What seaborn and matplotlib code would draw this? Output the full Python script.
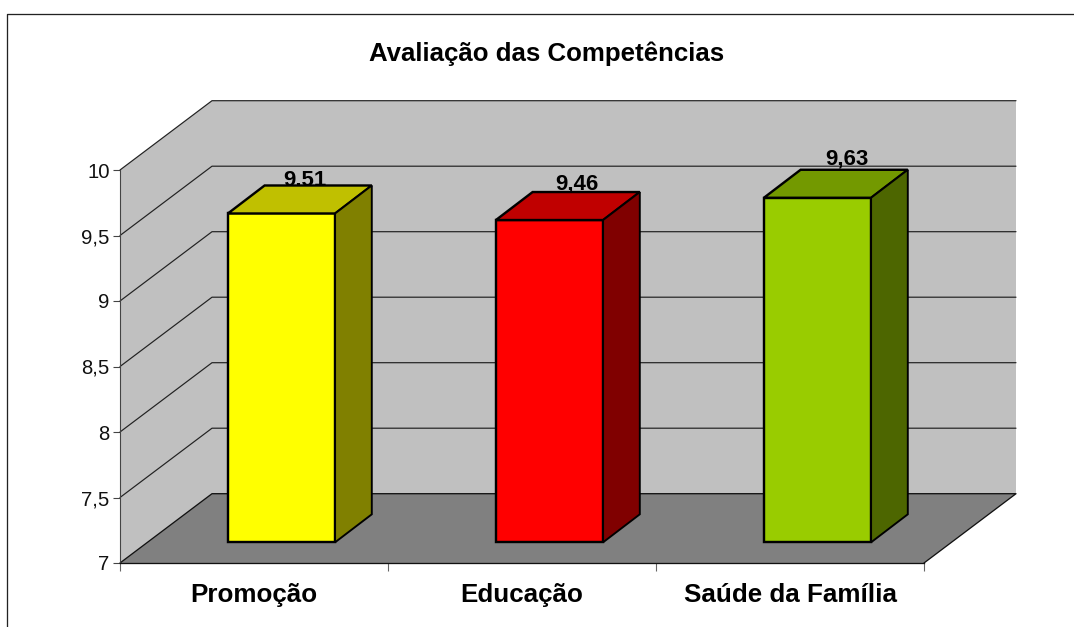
import matplotlib
matplotlib.use("Agg")
import matplotlib.pyplot as plt
import seaborn as sns
from matplotlib.lines import Line2D
from matplotlib.patches import Polygon
from matplotlib.transforms import Affine2D, IdentityTransform

categories = ["Promoção", "Educação", "Saúde da Família"]
values = [9.51, 9.46, 9.63]
value_labels = ["9,51", "9,46", "9,63"]
front_colors = ["#FFFF00", "#FF0000", "#99CC00"]
top_colors = ["#C0C000", "#C00000", "#739900"]
side_colors = ["#808000", "#800000", "#4D6600"]
y_ticks = [7, 7.5, 8, 8.5, 9, 9.5, 10]
y_tick_labels = ["7", "7,5", "8", "8,5", "9", "9,5", "10"]

W, H = 1074, 627
FONT = "Liberation Sans"
WALL_DX, WALL_DY = 92, 69.3
BAR_DX, BAR_DY = 27.5, 20.7
DEPTH_DX, DEPTH_DY = 36.7, 28
LABEL_OFFSETS = [(51, 48.7), (55, 51.7), (57, 53.5)]
PX = 0.72

sns.set_theme(style="white")
plt.rcParams["font.family"] = [FONT, "DejaVu Sans"]

fig = plt.figure(figsize=(W / 100, H / 100), dpi=100, facecolor="white")
ax = fig.add_axes([120 / W, 1 - 563 / H, 804 / W, 393 / H])
ax.patch.set_visible(False)

sns.barplot(x=categories, y=values, hue=categories, palette=front_colors,
            saturation=1, width=0.4, legend=False, edgecolor="black",
            linewidth=2.4 * PX, ax=ax)
ax.set_xlim(-0.5, 2.5)
ax.set_ylim(7, 10)
ax.set_autoscale_on(False)
ident = IdentityTransform()


def px(x, v, dx=0.0, dy=0.0):
    a, b = ax.transData.transform((x, v))
    return (a + dx, b + dy)


# walls and floor
x0, x1 = -0.5, 2.5
ax.add_patch(Polygon([px(x0, 7), px(x0, 7, WALL_DX, WALL_DY),
                      px(x0, 10, WALL_DX, WALL_DY), px(x0, 10)],
                     closed=True, fc="#C0C0C0", ec="none", transform=ident,
                     clip_on=False, zorder=0.5))
ax.add_patch(Polygon([px(x0, 7, WALL_DX, WALL_DY), px(x1, 7, WALL_DX, WALL_DY),
                      px(x1, 10, WALL_DX, WALL_DY), px(x0, 10, WALL_DX, WALL_DY)],
                     closed=True, fc="#C0C0C0", ec="none", transform=ident,
                     clip_on=False, zorder=0.5))
for t in y_ticks[1:]:
    p = [px(x0, t), px(x0, t, WALL_DX, WALL_DY), px(x1, t, WALL_DX, WALL_DY)]
    ax.add_line(Line2D([q[0] for q in p], [q[1] for q in p], color="#222222",
                       lw=1.2 * PX, transform=ident, clip_on=False, zorder=1))
ax.add_patch(Polygon([px(x0, 7), px(x0, 7, WALL_DX, WALL_DY),
                      px(x1, 7, WALL_DX, WALL_DY), px(x1, 7)],
                     closed=True, fc="#808080", ec="none", transform=ident,
                     clip_on=False, zorder=1.5))
p = [px(x0, 7), px(x0, 7, WALL_DX, WALL_DY), px(x1, 7, WALL_DX, WALL_DY), px(x1, 7)]
ax.add_line(Line2D([q[0] for q in p], [q[1] for q in p], color="#111111",
                   lw=1.3 * PX, transform=ident, clip_on=False, zorder=1.6))

# 3D bars
shift = Affine2D().translate(BAR_DX, BAR_DY)
for i, bar in enumerate(ax.patches[:len(values)]):
    v = values[i]
    left, right = bar.get_x(), bar.get_x() + bar.get_width()
    bar.set_y(7)
    bar.set_height(v - 7)
    bar.set_clip_on(False)
    bar.set_transform(ax.transData + shift)
    bar.set_zorder(3)
    bar.set_joinstyle("miter")
    top = [px(left, v, BAR_DX, BAR_DY), px(right, v, BAR_DX, BAR_DY),
           px(right, v, BAR_DX + DEPTH_DX, BAR_DY + DEPTH_DY),
           px(left, v, BAR_DX + DEPTH_DX, BAR_DY + DEPTH_DY)]
    side = [px(right, 7, BAR_DX, BAR_DY), px(right, 7, BAR_DX + DEPTH_DX, BAR_DY + DEPTH_DY),
            px(right, v, BAR_DX + DEPTH_DX, BAR_DY + DEPTH_DY), px(right, v, BAR_DX, BAR_DY)]
    ax.add_patch(Polygon(top, closed=True, fc=top_colors[i], ec="black", lw=2.4 * PX,
                         transform=ident, clip_on=False, zorder=3, joinstyle="miter"))
    ax.add_patch(Polygon(side, closed=True, fc=side_colors[i], ec="black", lw=1.9 * PX,
                         transform=ident, clip_on=False, zorder=3, joinstyle="miter"))
    ox, oy = LABEL_OFFSETS[i]
    cx = (left + right) / 2
    ax.annotate(value_labels[i], xy=(cx, v), xycoords="data",
                xytext=(ox * PX, oy * PX), textcoords="offset points",
                ha="center", va="baseline", fontsize=16, fontweight="bold",
                color="black", zorder=2, annotation_clip=False)

# axes furniture
for s in ("top", "right"):
    ax.spines[s].set_visible(False)
ax.spines["left"].set_color("#444444")
ax.spines["left"].set_linewidth(1.1 * PX)
ax.spines["bottom"].set_color("#111111")
ax.spines["bottom"].set_linewidth(1.3 * PX)
ax.spines["left"].set_zorder(1.7)
ax.spines["bottom"].set_zorder(1.7)

ax.set_yticks(y_ticks)
ax.set_yticklabels(y_tick_labels, fontsize=14.6, color="#111111")
ax.tick_params(axis="y", length=7 * PX, width=1.1 * PX, color="#444444", pad=2.5, left=True)
ax.set_xticks([x0, 0.5, 1.5, x1])
ax.set_xticklabels([])
ax.tick_params(axis="x", which="major", length=8 * PX, width=1.1 * PX, color="#666666", bottom=True)
ax.set_xticks([0, 1, 2], minor=True)
ax.set_xticklabels(categories, minor=True, fontsize=18.7, fontweight="bold", color="black")
ax.tick_params(axis="x", which="minor", length=0, pad=14.7)

fig.suptitle("Avaliação das Competências", x=546.5 / W, y=1 - 53.5 / H, va="center",
             ha="center", fontsize=18.6, fontweight="bold", color="black")

# chart-area frame, cropped on the right and bottom
fig.add_artist(Line2D([7.5 / W, 7.5 / W, 1], [0, 1 - 14 / H, 1 - 14 / H], color="#222222",
                      lw=1.3 * PX, transform=fig.transFigure))

fig.savefig("out.png", dpi=100)
